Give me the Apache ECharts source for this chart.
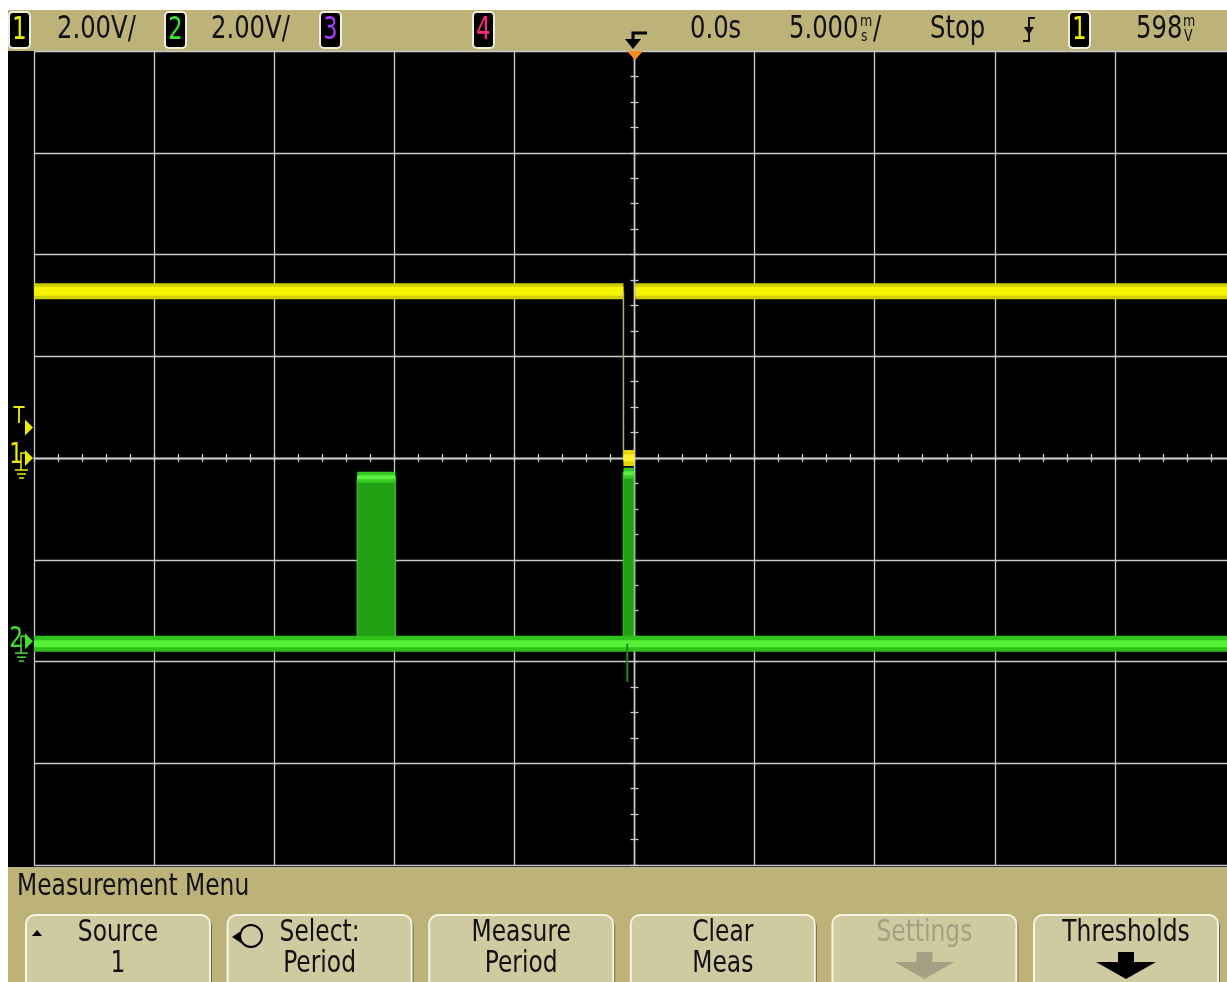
<!DOCTYPE html>
<html><head><meta charset="utf-8">
<script src="https://cdn.jsdelivr.net/npm/echarts@6/dist/echarts.min.js"></script>
<style>html,body{margin:0;padding:0;background:#fff;}#chart{position:absolute;left:0;top:0;width:1227px;height:982px;}</style>
</head><body><div id="chart"></div>
<script>
// ---------- scope settings ----------
const timePerDiv = 5;          // ms / div
const timeDivs = 10;
const timeDelay = 0.0;         // ms
const ch1VoltsPerDiv = 2;      // V / div
const ch2VoltsPerDiv = 2;
const ch1OffsetDiv = 0;        // ground marker of channel 1 (divisions from centre)
const ch2OffsetDiv = -1.8;     // ground marker of channel 2
const triggerLevel = 0.598;    // V, on channel 1

// ---------- channel 1 (yellow) ----------
const ch1High = 3.28;          // V
const ch1Low = 0.0;            // V
const ch1FallTime = -0.46;     // ms
const ch1RiseTime = 0.0;       // ms

// ---------- channel 2 (green) ----------
const ch2Low = -0.05;                  // V
const ch2BurstStart = [-11.54, -0.46]; // ms
const ch2BurstEnd = [-9.96, -0.04];    // ms
const ch2BurstHigh = [3.22, 3.30];     // V
const ch2GlitchTime = -0.30;           // ms
const ch2GlitchMin = -0.80;            // V

// ---------- texts ----------
const chanLabels = ['1', '2', '3', '4'];
const chanScaleTexts = ['2.00V/', '2.00V/', '', ''];
const delayText = '0.0s';
const timebaseText = '5.000';
const runText = 'Stop';
const trigSourceText = '1';
const trigLevelText = '598';
const menuTitle = 'Measurement Menu';
const menuLine1 = ['Source', 'Select:', 'Measure', 'Clear', 'Settings', 'Thresholds'];
const menuLine2 = ['1', 'Period', 'Period', 'Meas', '', ''];

// ---------- styling ----------
const FONT = "'DejaVu Sans Condensed', 'Liberation Sans Narrow', sans-serif";
const KHAKI = '#bdb378';
const BTN = '#d0caa1';
const GRIDC = '#c9c9c9';
const YEL = '#ecec00';
const chanColors = [YEL, '#3ee03a', '#a43cff', '#ff2a7a'];

const chart = echarts.init(document.getElementById('chart'), null, {renderer: 'canvas'});

const tMin = timeDelay - timePerDiv * timeDivs / 2;
const tMax = timeDelay + timePerDiv * timeDivs / 2;
const ch1Min = -(4 + ch1OffsetDiv) * ch1VoltsPerDiv, ch1Max = (4 - ch1OffsetDiv) * ch1VoltsPerDiv;
const ch2Min = -(4 + ch2OffsetDiv) * ch2VoltsPerDiv, ch2Max = (4 - ch2OffsetDiv) * ch2VoltsPerDiv;

function line(data, yIdx, color, width, z, extra) {
  return Object.assign({
    type: 'line', xAxisIndex: 0, yAxisIndex: yIdx, data, symbol: 'none', silent: true,
    animation: false, lineStyle: {color, width, cap: 'butt', join: 'miter'}, z: z
  }, extra || {});
}

const series = [];
// channel 2 bursts (filled toggling region)
ch2BurstStart.forEach((s, k) => {
  const e = ch2BurstEnd[k], h = ch2BurstHigh[k];
  series.push(line([[s, ch2Low], [s, h], [e, h], [e, ch2Low]], 2, '#33b822', 1.5, 2,
    {areaStyle: {color: '#22a014', opacity: 1}}));
});
// channel 2 baseline
series.push(line([[tMin, ch2Low], [tMax, ch2Low]], 2, '#2fc21a', 16, 3));
series.push(line([[tMin, ch2Low], [tMax, ch2Low]], 2, '#55ee38', 7, 3));
// burst top bands
ch2BurstStart.forEach((s, k) => {
  series.push(line([[s, ch2BurstHigh[k]], [ch2BurstEnd[k], ch2BurstHigh[k]]], 2, '#34cc20', 11, 3));
  series.push(line([[s, ch2BurstHigh[k]], [ch2BurstEnd[k], ch2BurstHigh[k]]], 2, '#5ef040', 4, 3));
});
// glitch
series.push(line([[ch2GlitchTime, ch2Low], [ch2GlitchTime, ch2GlitchMin]], 2, '#1f8a14', 2, 3));
// channel 1 high level
series.push(line([[tMin, ch1High], [ch1FallTime, ch1High]], 0, '#cfcf00', 16, 4));
series.push(line([[ch1RiseTime + 0.03, ch1High], [tMax, ch1High]], 0, '#cfcf00', 16, 4));
series.push(line([[tMin, ch1High], [ch1FallTime, ch1High]], 0, '#f4f400', 9, 4));
series.push(line([[ch1RiseTime + 0.03, ch1High], [tMax, ch1High]], 0, '#f4f400', 9, 4));
// falling edge
series.push(line([[ch1FallTime, ch1High], [ch1FallTime, ch1Low]], 0, '#b3ae72', 1.5, 4));
// low level block
series.push(line([[ch1FallTime, ch1Low], [ch1RiseTime, ch1Low]], 0, '#e6d600', 16, 5));
series.push(line([[ch1FallTime, ch1Low], [ch1RiseTime, ch1Low]], 0, '#fff033', 7, 5));

const gl = {color: GRIDC, width: 1.3};
function xAx(inside, main) {
  return {
    type: 'value', min: tMin, max: tMax, interval: timePerDiv, position: 'bottom',
    axisLine: {show: true, onZero: true, onZeroAxisIndex: 0, lineStyle: gl},
    axisTick: {show: true, inside, length: 4, lineStyle: gl},
    minorTick: {show: true, splitNumber: 5, length: 4, lineStyle: gl},
    axisLabel: {show: false},
    splitLine: {show: main, lineStyle: gl}
  };
}
function yAx(inside, main) {
  return {
    type: 'value', min: ch1Min, max: ch1Max, interval: ch1VoltsPerDiv, position: 'left',
    axisLine: {show: true, onZero: true, onZeroAxisIndex: 0, lineStyle: gl},
    axisTick: {show: true, inside, length: 4, lineStyle: gl},
    minorTick: {show: true, splitNumber: 4, length: 4, lineStyle: gl},
    axisLabel: {show: false},
    splitLine: {show: main, lineStyle: gl}
  };
}

chart.setOption({
  animation: false,
  backgroundColor: 'transparent',
  grid: {left: 34, top: 51, width: 1201, height: 814, outerBoundsMode: 'none', containLabel: false},
  xAxis: [xAx(true, true), xAx(false, false)],
  yAxis: [yAx(true, true), yAx(false, false),
    {type: 'value', min: ch2Min, max: ch2Max, show: false, splitLine: {show: false}}],
  series
});

// ---------- decorations ----------
function txt(text, x, y, size, color, align, z, sy) {
  return {type: 'text', z: z || 20, silent: true, x, y, scaleY: sy || 1.18,
    style: {text, x: 0, y: 0, fill: color, font: size + 'px ' + FONT, textAlign: align || 'left', textVerticalAlign: 'middle'}};
}
function poly(points, fill, z) { return {type: 'polygon', z: z || 20, silent: true, shape: {points}, style: {fill}}; }
function pline(points, stroke, w, z) { return {type: 'polyline', z: z || 20, silent: true, shape: {points}, style: {stroke, lineWidth: w, fill: null}}; }
function rect(x, y, w, h, fill, z) {
  return {type: 'rect', z: z || 0, silent: true, shape: {x, y, width: w, height: h}, style: {fill}};
}

const els = [];
// backgrounds
els.push(rect(8, 10, 1219, 41, KHAKI, -10));
els.push(rect(8, 51, 1219, 816, '#000', -10));
els.push(rect(8, 867, 1219, 115, KHAKI, -10));

// top bar
function chanBox(x, label, color) {
  els.push({type: 'rect', z: 15, silent: true, shape: {x, y: 12, width: 21, height: 36, r: 4},
    style: {fill: '#000', stroke: '#eeecdc', lineWidth: 2}});
  els.push(txt(label, x + 10.5, 30.5, 25, color, 'center', 16, 1.25));
}
const boxX = [9, 165, 320, 473];
chanLabels.forEach((l, i) => chanBox(boxX[i], l, chanColors[i]));
els.push(txt(chanScaleTexts[0], 57, 30, 27, '#111'));
els.push(txt(chanScaleTexts[1], 211, 30, 27, '#111'));
// trigger position icon
els.push(pline([[647, 33], [633, 33], [633, 41]], '#000', 3));
els.push(poly([[625, 39], [641, 39], [633, 49]], '#000'));
els.push(poly([[627, 51], [643, 51], [635, 60]], '#ff8c1a', 30));
els.push(txt(delayText, 690, 30, 27, '#111'));
els.push(txt(timebaseText, 789, 30, 27, '#111'));
els.push(txt('m', 860, 22, 14, '#111'));
els.push(txt('s', 861, 37, 14, '#111'));
els.push(txt('/', 873, 30, 27, '#111'));
els.push(txt(runText, 930, 30, 27, '#111'));
// falling edge symbol
els.push(pline([[1035, 18], [1029, 18], [1029, 41], [1023, 41]], '#111', 2));
els.push(poly([[1024, 27], [1034, 27], [1029, 35]], '#111'));
chanBox(1069, trigSourceText, YEL);
els.push(txt(trigLevelText, 1136, 30, 27, '#111'));
els.push(txt('m', 1183, 22, 14, '#111'));
els.push(txt('V', 1184, 37, 14, '#111'));

// left markers, placed through the axes
const yT = chart.convertToPixel({yAxisIndex: 0}, triggerLevel);
const y1 = chart.convertToPixel({yAxisIndex: 0}, 0);
const y2 = chart.convertToPixel({yAxisIndex: 2}, 0);
els.push(txt('T', 19, yT - 11, 20, YEL, 'center'));
els.push(poly([[25, yT - 8], [25, yT + 8], [33, yT]], YEL));
function gndMarker(label, y, color) {
  els.push(txt(label, 16, y - 2, 24, color, 'center'));
  els.push(pline([[26, y - 5], [21, y - 5], [21, y + 12]], color, 1.5));
  els.push(poly([[25, y - 8], [25, y + 8], [33, y]], color));
  els.push(pline([[15, y + 12], [28, y + 12]], color, 1.5));
  els.push(pline([[17, y + 16], [26, y + 16]], color, 1.5));
  els.push(pline([[19, y + 20], [24, y + 20]], color, 1.5));
}
gndMarker('1', y1, YEL);
gndMarker('2', y2, '#44e030');

// bottom menu
els.push(txt(menuTitle, 17, 887, 26, '#111'));
menuLine1.forEach((t, i) => {
  const x0 = 26 + i * 201.6, cx = x0 + 92;
  els.push({type: 'rect', z: 5, silent: true, shape: {x: x0 + 2, y: 917, width: 184, height: 80, r: 9}, style: {fill: '#6d6844'}});
  els.push({type: 'rect', z: 6, silent: true, shape: {x: x0, y: 915, width: 184, height: 80, r: 9},
    style: {fill: BTN, stroke: '#f7f4e2', lineWidth: 2}});
  const col = (i === 4) ? '#a4a083' : '#111';
  els.push(txt(t, cx, 933, 26, col, 'center'));
  if (menuLine2[i]) els.push(txt(menuLine2[i], cx, 964, 26, col, 'center'));
  if (i === 4 || i === 5) {
    const ac = i === 4 ? '#a4a083' : '#000';
    els.push(rect(cx - 8, 952, 16, 11, ac, 20));
    els.push(poly([[cx - 30, 962], [cx + 30, 962], [cx, 979]], ac));
  }
});
els.push(poly([[32, 936], [42, 936], [37, 930]], '#000'));
els.push({type: 'circle', z: 20, silent: true, shape: {cx: 251, cy: 936, r: 11}, style: {fill: null, stroke: '#000', lineWidth: 2}});
els.push(poly([[231, 937], [241, 930], [241, 944]], BTN, 21));
els.push(poly([[232, 937], [241, 931], [241, 943]], '#000', 22));

chart.setOption({graphic: {elements: els}});
</script></body></html>
